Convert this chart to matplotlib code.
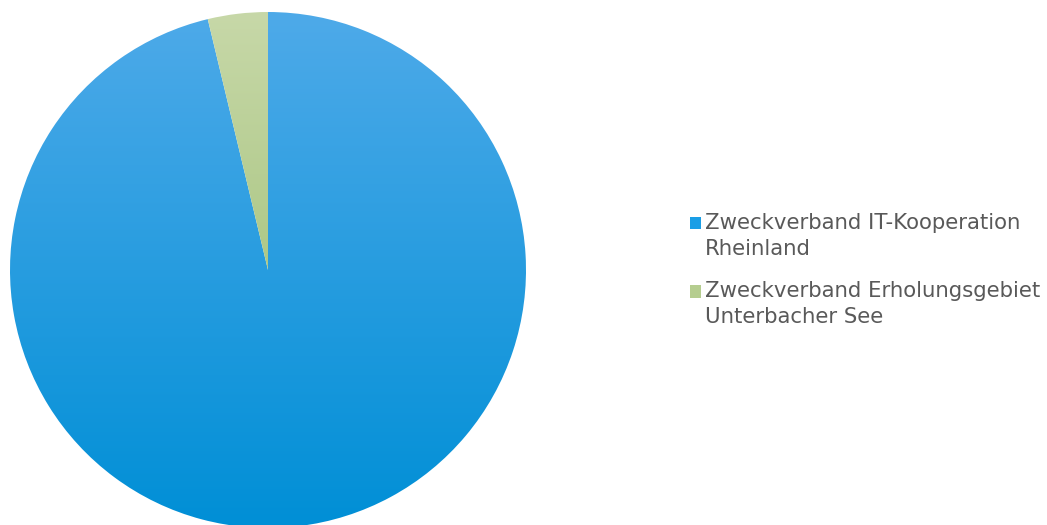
import numpy as np
import matplotlib.pyplot as plt
from matplotlib.colors import LinearSegmentedColormap
from matplotlib.patches import Patch, Rectangle
from matplotlib.legend_handler import HandlerPatch

# Share per member (percent)
labels = ['Zweckverband IT-Kooperation\nRheinland',
          'Zweckverband Erholungsgebiet\nUnterbacher See']
shares = [96.25, 3.75]

# top / bottom colours of the vertical gradient for each slice
grad_top = ['#4eaae9', '#c7d8a8']
grad_bottom = ['#008fd6', '#94b866']
legend_colors = ['#1a9ee6', '#b5cd8f']

FS = 15.3


class TopSquare(HandlerPatch):
    # legend square aligned with the first line of a two-line label
    def create_artists(self, legend, orig_handle, xdescent, ydescent,
                       width, height, fontsize, trans):
        p = Rectangle((-xdescent, -ydescent + 0.62 * fontsize), width, height,
                      facecolor=orig_handle.get_facecolor(), edgecolor='none',
                      transform=trans)
        return [p]


fig = plt.figure(figsize=(10.47, 5.25), dpi=100)
ax = fig.add_axes([10 / 1047, -3 / 525, 516 / 1047, 516 / 525])

wedges, _ = ax.pie(shares, startangle=90, counterclock=False, radius=1,
                   colors=['none', 'none'],
                   wedgeprops=dict(linewidth=0, edgecolor='none'))

# Fill each wedge with a vertical gradient clipped to its shape
grad = np.linspace(1, 0, 256).reshape(-1, 1)
for w, c1, c2 in zip(wedges, grad_top, grad_bottom):
    cmap = LinearSegmentedColormap.from_list('g', [c2, c1])
    im = ax.imshow(grad, cmap=cmap, extent=(-1, 1, -1, 1), aspect='auto',
                   origin='upper', interpolation='bilinear', vmin=0, vmax=1)
    im.set_clip_path(w)

ax.set_xlim(-1, 1)
ax.set_ylim(-1, 1)
ax.axis('off')

handles = [Patch(facecolor=c, edgecolor='none') for c in legend_colors]
leg = fig.legend(handles, labels, loc='center left',
                 bbox_to_anchor=(690 / 1047, 1 - 270 / 525), frameon=False,
                 prop={'family': 'DejaVu Sans', 'size': FS},
                 handlelength=0.52, handleheight=0.52, handletextpad=0.2,
                 borderpad=0, borderaxespad=0, labelspacing=1.05,
                 labelcolor='#595959', handler_map={Patch: TopSquare()})
for t in leg.get_texts():
    t.set_linespacing(1.36)

fig.savefig('out.png', dpi=100)
